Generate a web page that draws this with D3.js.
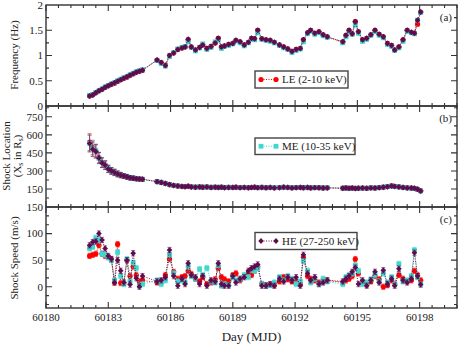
<!DOCTYPE html>
<html>
<head>
<meta charset="utf-8">
<script src="https://cdn.jsdelivr.net/npm/d3@7"></script>
<style>
  body { margin: 0; background: #fff; }
  svg { display: block; }
  text { font-family: "Liberation Serif", "Times New Roman", Times, serif; }
</style>
</head>
<body>
<script>
// observation times (MJD)
const days = [
  60182.10, 60182.25, 60182.40, 60182.55, 60182.70, 60182.85, 60183.00, 60183.15, 60183.30,
  60183.45, 60183.60, 60183.75, 60183.90, 60184.05, 60184.20, 60184.35, 60184.50, 60184.65,
  60185.35, 60185.55, 60185.75, 60185.95, 60186.15, 60186.35, 60186.55, 60186.70, 60186.85,
  60187.00, 60187.20, 60187.40, 60187.55, 60187.75, 60187.95, 60188.15, 60188.30, 60188.45,
  60188.60, 60188.80, 60189.00, 60189.15, 60189.35, 60189.55, 60189.75, 60189.90, 60190.05,
  60190.20, 60190.40, 60190.60, 60190.80, 60191.00, 60191.25, 60191.45, 60191.65, 60191.85,
  60192.05, 60192.25, 60192.40, 60192.60, 60192.75, 60192.95, 60193.15, 60193.35, 60193.55,
  60194.30, 60194.45, 60194.60, 60194.75, 60194.90, 60195.05, 60195.25, 60195.45, 60195.65,
  60195.85, 60196.05, 60196.25, 60196.45, 60196.65, 60196.80, 60197.00, 60197.20, 60197.40,
  60197.60, 60197.75, 60197.90, 60198.05
];

// (a) QPO frequency, Hz
const leFreq = [
  0.20, 0.22, 0.26, 0.30, 0.33, 0.37, 0.40, 0.43, 0.45, 0.49, 0.52, 0.55, 0.57, 0.61, 0.64, 0.67, 0.69, 0.71,
  0.91, 0.86, 0.81, 1.00, 1.05, 1.12, 1.15, 1.17, 1.31, 1.17, 1.11, 1.16, 1.21, 1.14, 1.18, 1.25, 1.34, 1.17,
  1.19, 1.22, 1.24, 1.30, 1.27, 1.21, 1.26, 1.34, 1.33, 1.50, 1.33, 1.31, 1.30, 1.26, 1.21, 1.17, 1.13, 1.08,
  1.12, 1.14, 1.31, 1.45, 1.50, 1.44, 1.47, 1.41, 1.37,
  1.27, 1.40, 1.50, 1.43, 1.67, 1.47, 1.31, 1.34, 1.41, 1.50, 1.42, 1.37, 1.24, 1.20, 1.11, 1.17, 1.31, 1.50,
  1.46, 1.44, 1.62, 1.86
];
const meFreq = [
  0.21, 0.23, 0.27, 0.30, 0.34, 0.38, 0.41, 0.44, 0.46, 0.50, 0.53, 0.56, 0.58, 0.62, 0.65, 0.68, 0.70, 0.72,
  0.90, 0.84, 0.79, 0.98, 1.06, 1.13, 1.16, 1.18, 1.27, 1.16, 1.09, 1.15, 1.23, 1.12, 1.16, 1.27, 1.30, 1.14,
  1.18, 1.20, 1.23, 1.29, 1.25, 1.19, 1.25, 1.32, 1.31, 1.45, 1.32, 1.30, 1.28, 1.25, 1.20, 1.15, 1.12, 1.06,
  1.10, 1.13, 1.27, 1.43, 1.48, 1.42, 1.45, 1.39, 1.36,
  1.25, 1.37, 1.47, 1.42, 1.60, 1.44, 1.28, 1.32, 1.40, 1.47, 1.40, 1.35, 1.22, 1.18, 1.10, 1.15, 1.28, 1.48,
  1.45, 1.43, 1.70, 1.85
];
const heFreq = [
  0.20, 0.22, 0.26, 0.30, 0.33, 0.37, 0.40, 0.43, 0.46, 0.49, 0.52, 0.55, 0.58, 0.61, 0.64, 0.67, 0.69, 0.71,
  0.91, 0.86, 0.80, 1.00, 1.05, 1.12, 1.15, 1.17, 1.32, 1.17, 1.11, 1.16, 1.21, 1.14, 1.18, 1.25, 1.34, 1.17,
  1.19, 1.22, 1.24, 1.30, 1.27, 1.21, 1.26, 1.34, 1.33, 1.50, 1.33, 1.31, 1.30, 1.26, 1.21, 1.17, 1.13, 1.08,
  1.12, 1.14, 1.31, 1.45, 1.50, 1.44, 1.47, 1.41, 1.37,
  1.27, 1.40, 1.50, 1.43, 1.67, 1.47, 1.31, 1.34, 1.41, 1.50, 1.42, 1.37, 1.24, 1.20, 1.11, 1.17, 1.31, 1.50,
  1.46, 1.44, 1.70, 1.86
];
const freqErr = 0.03;

// (b) shock location, Xs in Rs
const leLoc = [
  540, 495, 465, 410, 370, 350, 318, 300, 288, 276, 266, 258, 250, 244, 240, 236, 233, 231,
  212, 205, 196, 186, 180, 175, 172, 170, 173, 168, 166, 168, 165, 167, 164, 166, 163, 165,
  162, 164, 163, 165, 162, 164, 161, 163, 165, 162, 164, 161, 163, 160, 162, 165, 163, 160,
  162, 164, 161, 163, 160, 162, 161, 159, 160,
  157, 159, 156, 158, 155, 157, 158, 156, 160, 158, 162, 165, 170, 176, 172, 168, 163, 160,
  158, 156, 148, 135
];
const meLoc = [
  530, 485, 470, 405, 372, 346, 320, 298, 290, 274, 268, 256, 252, 242, 241, 234, 234, 229,
  210, 206, 194, 188, 178, 176, 170, 171, 170, 169, 165, 167, 166, 166, 165, 165, 162, 166,
  161, 165, 162, 164, 163, 163, 162, 162, 164, 160, 165, 160, 162, 161, 161, 164, 162, 161,
  161, 163, 160, 164, 159, 161, 160, 158, 161,
  156, 158, 157, 157, 156, 156, 157, 157, 159, 159, 161, 166, 169, 174, 171, 167, 162, 159,
  157, 155, 147, 133
];
const heLoc = [
  528, 480, 462, 408, 368, 348, 316, 301, 287, 275, 265, 257, 251, 243, 239, 235, 232, 230,
  211, 204, 195, 187, 179, 174, 171, 169, 172, 167, 165, 167, 164, 166, 163, 165, 162, 164,
  161, 163, 162, 164, 161, 163, 160, 162, 164, 161, 163, 160, 162, 159, 161, 164, 162, 159,
  161, 163, 160, 162, 159, 161, 160, 158, 159,
  156, 158, 155, 157, 154, 156, 157, 155, 159, 157, 161, 164, 169, 175, 171, 167, 162, 159,
  157, 155, 147, 134
];
const locErr = [
  70, 60, 55, 45, 40, 35, 30, 28, 26, 24, 22, 20, 20, 18, 18, 16, 16, 16,
  16, 15, 15, 15, 14, 14, 14, 14, 14, 14, 14, 14, 14, 14, 14, 14, 14, 14,
  14, 14, 14, 14, 14, 14, 14, 14, 14, 14, 14, 14, 14, 14, 14, 14, 14, 14,
  14, 14, 14, 14, 14, 14, 14, 14, 14,
  14, 14, 14, 14, 14, 14, 14, 14, 14, 14, 14, 14, 14, 14, 14, 14, 14, 14,
  14, 14, 14, 14
];

// (c) shock speed, m/s
const leSpeed = [
  58, 60, 62, 78, 62, 58, 56, 52, 8, 80, 7, 7, 50, 20, 38, 22, 10, 12,
  8, 10, 22, 52, 28, 15, 18, 20, 30, 24, 15, 10, 18, 5, 8, 14, 35, 18,
  14, 10, 22, 25, 12, 20, 27, 22, 30, 38, 5, 3, 4, 3, 10, 18, 14, 10,
  8, 5, 55, 20, 15, 12, 8, 10, 12,
  8, 12, 15, 20, 52, 25, 8, 4, 10, 20, 14, 0, 3, 12, 5, 22, 15, 10,
  12, 30, 22, 12
];
const meSpeed = [
  72, 75, 92, 88, 62, 60, 55, 50, 12, 65, 20, 5, 52, 10, 45, 35, 2, 5,
  12, 5, 12, 60, 25, 10, 12, 8, 38, 20, 15, 33, 22, 35, 10, 8, 40, 2,
  5, 3, 18, 12, 14, 22, 18, 32, 30, 35, 5, 2, 3, 8, 18, 12, 20, 15,
  5, 10, 48, 30, 8, 15, 5, 15, 10,
  5, 18, 22, 25, 40, 30, 5, 8, 14, 22, 10, 25, 8, 18, 5, 43, 10, 12,
  20, 69, 18, 5
];
const heSpeed = [
  78, 84, 85, 100, 88, 72, 58, 52, 8, 50, 30, 8, 50, 4, 63, 16, 0, 20,
  10, 12, 18, 69, 20, 2, 15, 5, 44, 22, 18, 5, 20, 2, 12, 10, 44, 5,
  2, 2, 20, 8, 15, 18, 30, 35, 38, 42, 2, 2, 5, 2, 15, 10, 18, 12,
  18, 2, 60, 25, 12, 18, 5, 8, 12,
  10, 15, 20, 28, 36, 5, 12, 2, 12, 28, 8, 31, 5, 15, 2, 34, 12, 8,
  15, 64, 20, 4
];
const speedErr = 5;

const bands = ["LE (2-10 keV)", "ME (10-35 keV)", "HE (27-250 keV)"];
const colors = ["#ff0000", "#3fd8cc", "#600a50"];
const dayErr = 0.12;

const W = 463, H = 346;
const L = 46, R = 457;

const svg = d3.select("body").append("svg")
  .attr("width", W).attr("height", H);

const x = d3.scaleLinear().domain([60180, 60199.8]).range([L, R]);

const panels = [
  { top: 5, bottom: 106, domain: [0, 2], major: d3.range(0, 2.01, 0.5), minor: d3.range(0, 2.01, 0.25),
    labels: [0, 0.5, 1, 1.5, 2], series: [leFreq, meFreq, heFreq], err: () => freqErr,
    tag: "(a)", legend: 0, legendBox: [255, 71, 93, 17] },
  { top: 106, bottom: 207, domain: [0, 840], major: d3.range(0, 841, 150), minor: d3.range(0, 841, 75),
    labels: [150, 300, 450, 600, 750], series: [leLoc, meLoc, heLoc], err: i => locErr[i],
    tag: "(b)", legend: 1, legendBox: [255, 138, 100, 16.5] },
  { top: 207, bottom: 308, domain: [-40, 150], major: d3.range(0, 151, 50), minor: d3.range(-50 + 50 / 3, 151, 50 / 3),
    labels: [0, 50, 100, 150], series: [leSpeed, meSpeed, heSpeed], err: () => speedErr,
    tag: "(c)", legend: 2, legendBox: [255, 232.5, 102, 17] }
];

const xMajor = d3.range(60180, 60200, 3);
const xMinor = d3.range(60180, 60199.81, 0.6);

function marker(g, k, cx, cy) {
  if (k === 0) {
    g.append("circle").attr("cx", cx).attr("cy", cy).attr("r", 2.6).attr("fill", colors[0]);
  } else if (k === 1) {
    g.append("rect").attr("x", cx - 2.4).attr("y", cy - 2.4).attr("width", 4.8).attr("height", 4.8).attr("fill", colors[1]);
  } else {
    g.append("path").attr("d", `M${cx},${cy - 3}L${cx + 2.7},${cy}L${cx},${cy + 3}L${cx - 2.7},${cy}Z`).attr("fill", colors[2]);
  }
}

panels.forEach(p => {
  const y = d3.scaleLinear().domain(p.domain).range([p.bottom, p.top]);
  const g = svg.append("g");

  p.series.forEach((vals, k) => {
    const pts = days.map((d, i) => ({ d, v: vals[i], e: p.err(i) }));
    const sg = g.append("g");
    const line = d3.line().x(q => x(q.d)).y(q => y(q.v));
    sg.append("path").attr("d", line(pts)).attr("fill", "none")
      .attr("stroke", colors[k]).attr("stroke-width", 1).attr("stroke-dasharray", "1,1.5");
    const eb = sg.append("g").attr("stroke", colors[k]).attr("stroke-width", 1).attr("opacity", 0.6);
    pts.forEach(q => {
      const cx = x(q.d), y0 = y(q.v - q.e), y1 = y(q.v + q.e);
      eb.append("path").attr("d",
        `M${cx},${y0}V${y1}M${cx - 2},${y0}H${cx + 2}M${cx - 2},${y1}H${cx + 2}` +
        `M${x(q.d - dayErr)},${y(q.v)}H${x(q.d + dayErr)}`);
    });
    pts.forEach(q => marker(sg, k, x(q.d), y(q.v)));
  });

  // frame
  g.append("rect").attr("x", L).attr("y", p.top).attr("width", R - L).attr("height", p.bottom - p.top)
    .attr("fill", "none").attr("stroke", "#333").attr("stroke-width", 1.4);

  // ticks, all pointing inward
  const t = g.append("g").attr("stroke", "#333").attr("stroke-width", 1.1);
  p.minor.forEach(v => {
    const yy = y(v);
    if (yy < p.top + 0.5 || yy > p.bottom - 0.5) return;
    const len = p.major.some(m => Math.abs(m - v) < 1e-6) ? 6 : 3;
    t.append("path").attr("d", `M${L},${yy}h${len}M${R},${yy}h${-len}`);
  });
  xMinor.forEach(v => {
    const xx = x(v);
    const len = xMajor.some(m => Math.abs(m - v) < 1e-6) ? 6 : 3;
    t.append("path").attr("d", `M${xx},${p.top}v${len}M${xx},${p.bottom}v${-len}`);
  });

  // y tick labels
  p.labels.forEach(v => {
    g.append("text").attr("x", L - 3).attr("y", y(v)).attr("dy", "0.35em")
      .attr("text-anchor", "end").attr("font-size", 11).attr("fill", "#222").text(v);
  });

  g.append("text").attr("x", 452).attr("y", p.top + 16).attr("text-anchor", "end")
    .attr("font-size", 11).attr("fill", "#222").text(p.tag);

  // legend
  const [bx, by, bw, bh] = p.legendBox;
  const lg = g.append("g");
  lg.append("rect").attr("x", bx).attr("y", by).attr("width", bw).attr("height", bh)
    .attr("fill", "#fff").attr("stroke", "#444").attr("stroke-width", 1.4);
  const ly = by + bh / 2;
  lg.append("path").attr("d", `M${bx + 6},${ly}H${bx + 21}`).attr("stroke", colors[p.legend])
    .attr("stroke-width", 1).attr("stroke-dasharray", "1,1.5");
  marker(lg, p.legend, bx + 6, ly);
  marker(lg, p.legend, bx + 21, ly);
  lg.append("text").attr("x", bx + 27).attr("y", ly).attr("dy", "0.35em")
    .attr("font-size", 11).attr("fill", "#222").text(bands[p.legend]);
});

// x tick labels
xMajor.forEach(v => {
  svg.append("text").attr("x", x(v)).attr("y", 321).attr("text-anchor", "middle")
    .attr("font-size", 11).attr("fill", "#222").text(v);
});

svg.append("text").attr("x", (L + R) / 2).attr("y", 341).attr("text-anchor", "middle")
  .attr("font-size", 13).attr("fill", "#222").text("Day (MJD)");

// y axis titles
svg.append("text").attr("transform", "translate(18,55) rotate(-90)").attr("text-anchor", "middle")
  .attr("font-size", 11).attr("fill", "#222").text("Frequency (Hz)");

svg.append("text").attr("transform", "translate(10,156) rotate(-90)").attr("text-anchor", "middle")
  .attr("font-size", 11).attr("fill", "#222").text("Shock Location");
const t2 = svg.append("text").attr("transform", "translate(21,156) rotate(-90)").attr("text-anchor", "middle")
  .attr("font-size", 11).attr("fill", "#222");
t2.append("tspan").text("(X");
t2.append("tspan").attr("font-size", 7.5).attr("dy", 2).text("s");
t2.append("tspan").attr("dy", -2).text(" in R");
t2.append("tspan").attr("font-size", 7.5).attr("dy", 2).text("s");
t2.append("tspan").attr("dy", -2).text(")");

svg.append("text").attr("transform", "translate(18,258) rotate(-90)").attr("text-anchor", "middle")
  .attr("font-size", 11).attr("fill", "#222").text("Shock Speed (m/s)");
</script>
</body>
</html>
